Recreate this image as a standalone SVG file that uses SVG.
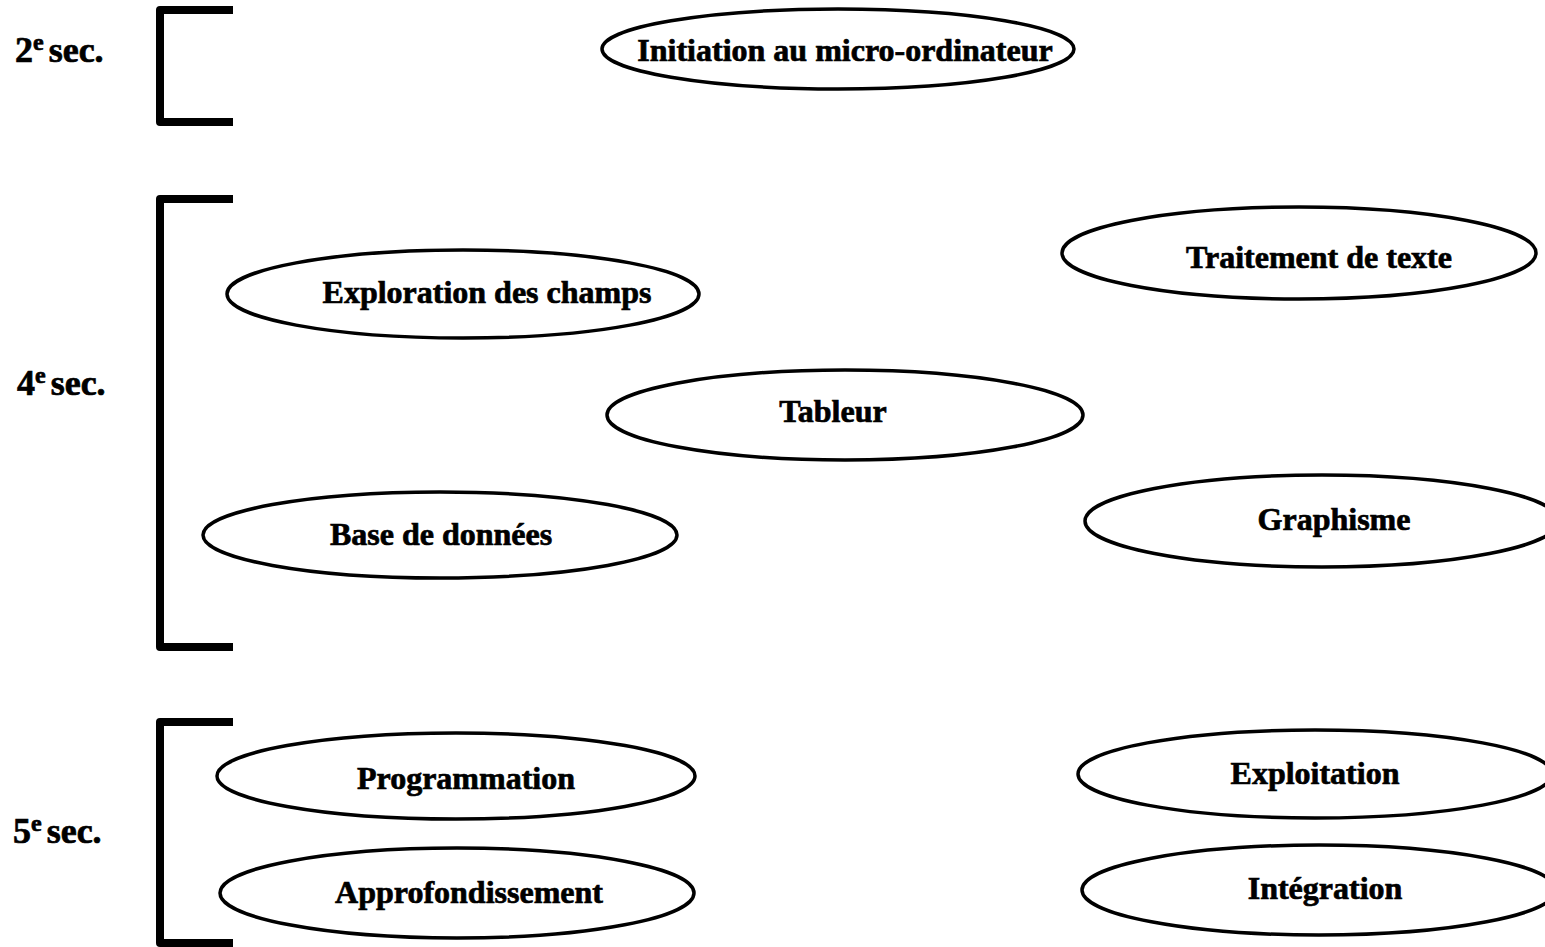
<svg xmlns="http://www.w3.org/2000/svg" width="1545" height="947" viewBox="0 0 1545 947">
<style>
.bg{fill:#ffffff}
.node ellipse{fill:#ffffff;stroke:#000000;stroke-width:3.5}
.node text{font-family:"Liberation Serif","Times New Roman",serif;font-weight:bold;font-size:32px;fill:#000000;stroke:#000000;stroke-width:0.7;text-anchor:middle}
.bracket{fill:none;stroke:#000000;stroke-width:8;stroke-linejoin:round}
.lvl{font-family:"Liberation Serif","Times New Roman",serif;font-weight:bold;font-size:36px;fill:#000000;stroke:#000000;stroke-width:0.7}
.sup{font-size:24px}
</style>
<rect class="bg" x="0" y="0" width="1545" height="947"/>
<g id="levels">
  <g id="level-2">
    <path class="bracket" d="M233,10 H160 V122 H233"/>
    <text class="lvl" x="15" y="62">2<tspan class="sup" dy="-12">e</tspan><tspan dx="5" dy="12">sec.</tspan></text>
  </g>
  <g id="level-4">
    <path class="bracket" d="M233,199 H160 V647 H233"/>
    <text class="lvl" x="17" y="395">4<tspan class="sup" dy="-12">e</tspan><tspan dx="5" dy="12">sec.</tspan></text>
  </g>
  <g id="level-5">
    <path class="bracket" d="M233,722 H160 V943 H233"/>
    <text class="lvl" x="13" y="843">5<tspan class="sup" dy="-12">e</tspan><tspan dx="5" dy="12">sec.</tspan></text>
  </g>
</g>
<g id="connectors"></g>
<g id="n-initiation" class="node">
  <ellipse cx="838" cy="49" rx="236" ry="40"/>
  <text x="845" y="61">Initiation au micro-ordinateur</text>
</g>
<g id="n-traitement" class="node">
  <ellipse cx="1299" cy="253" rx="237" ry="46"/>
  <text x="1319" y="268">Traitement de texte</text>
</g>
<g id="n-exploration" class="node">
  <ellipse cx="463" cy="294" rx="236" ry="44"/>
  <text x="487" y="303">Exploration des champs</text>
</g>
<g id="n-tableur" class="node">
  <ellipse cx="845" cy="415" rx="238" ry="45"/>
  <text x="833" y="422">Tableur</text>
</g>
<g id="n-base" class="node">
  <ellipse cx="440" cy="535" rx="237" ry="43"/>
  <text x="441" y="545">Base de données</text>
</g>
<g id="n-graphisme" class="node">
  <ellipse cx="1322" cy="521" rx="237" ry="46"/>
  <text x="1334" y="530">Graphisme</text>
</g>
<g id="n-programmation" class="node">
  <ellipse cx="456" cy="776" rx="239" ry="43"/>
  <text x="466" y="789">Programmation</text>
</g>
<g id="n-approfondissement" class="node">
  <ellipse cx="457" cy="893" rx="237" ry="45"/>
  <text x="469" y="903">Approfondissement</text>
</g>
<g id="n-exploitation" class="node">
  <ellipse cx="1315" cy="774" rx="237" ry="44"/>
  <text x="1315" y="784">Exploitation</text>
</g>
<g id="n-integration" class="node">
  <ellipse cx="1319" cy="890" rx="237" ry="45"/>
  <text x="1325" y="899">Intégration</text>
</g>
</svg>
